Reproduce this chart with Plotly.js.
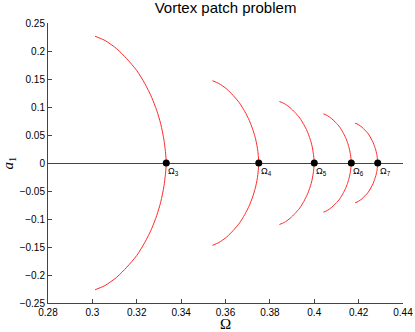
<!DOCTYPE html>
<html>
<head>
<meta charset="utf-8">
<script src="https://cdn.plot.ly/plotly-3.0.1.min.js"></script>
<style>
  html, body { margin: 0; padding: 0; background: #fff; }
  #graph { width: 415px; height: 332px; }
</style>
</head>
<body>
<div id="graph"></div>
<script>
// bifurcation branches (Omega, a1)
const omega3 = [0.3012, 0.3057, 0.3110, 0.3155, 0.3200, 0.3237, 0.3267, 0.3290, 0.3308, 0.3323, 0.3333,
                0.3323, 0.3308, 0.3290, 0.3267, 0.3237, 0.3200, 0.3155, 0.3110, 0.3057, 0.3012];
const a1_3 = [0.2264, 0.2188, 0.2039, 0.1861, 0.1652, 0.1414, 0.1175, 0.0938, 0.0700, 0.0402, 0,
              -0.0402, -0.0700, -0.0938, -0.1175, -0.1414, -0.1652, -0.1861, -0.2039, -0.2188, -0.2264];

const omega4 = [0.3541, 0.3570, 0.3605, 0.3634, 0.3663, 0.3687, 0.3707, 0.3722, 0.3734, 0.3744, 0.3750,
                0.3744, 0.3734, 0.3722, 0.3707, 0.3687, 0.3663, 0.3634, 0.3605, 0.3570, 0.3541];
const a1_4 = [0.1470, 0.1420, 0.1323, 0.1208, 0.1073, 0.0919, 0.0763, 0.0609, 0.0454, 0.0262, 0,
              -0.0262, -0.0454, -0.0609, -0.0763, -0.0919, -0.1073, -0.1208, -0.1323, -0.1420, -0.1470];

const omega5 = [0.3843, 0.3865, 0.3891, 0.3913, 0.3935, 0.3953, 0.3968, 0.3979, 0.3988, 0.3995, 0.4000,
                0.3995, 0.3988, 0.3979, 0.3968, 0.3953, 0.3935, 0.3913, 0.3891, 0.3865, 0.3843];
const a1_5 = [0.1098, 0.1061, 0.0988, 0.0903, 0.0802, 0.0686, 0.0570, 0.0455, 0.0339, 0.0195, 0,
              -0.0195, -0.0339, -0.0455, -0.0570, -0.0686, -0.0802, -0.0903, -0.0988, -0.1061, -0.1098];

const omega6 = [0.4041, 0.4059, 0.4079, 0.4097, 0.4115, 0.4129, 0.4141, 0.4150, 0.4157, 0.4163, 0.4167,
                0.4163, 0.4157, 0.4150, 0.4141, 0.4129, 0.4115, 0.4097, 0.4079, 0.4059, 0.4041];
const a1_6 = [0.0878, 0.0848, 0.0790, 0.0722, 0.0641, 0.0549, 0.0456, 0.0363, 0.0271, 0.0156, 0,
              -0.0156, -0.0271, -0.0363, -0.0456, -0.0549, -0.0641, -0.0722, -0.0790, -0.0848, -0.0878];

const omega7 = [0.4184, 0.4198, 0.4215, 0.4229, 0.4244, 0.4255, 0.4265, 0.4272, 0.4278, 0.4283, 0.4286,
                0.4283, 0.4278, 0.4272, 0.4265, 0.4255, 0.4244, 0.4229, 0.4215, 0.4198, 0.4184];
const a1_7 = [0.0711, 0.0687, 0.0640, 0.0584, 0.0519, 0.0444, 0.0369, 0.0294, 0.0220, 0.0127, 0,
              -0.0127, -0.0220, -0.0294, -0.0369, -0.0444, -0.0519, -0.0584, -0.0640, -0.0687, -0.0711];

// bifurcation points Omega_m = (m-1)/(2m)
const bifOmega = [0.3333, 0.3750, 0.4000, 0.4167, 0.4286];
const bifA1 = [0, 0, 0, 0, 0];
const bifLabels = ['Ω<sub>3</sub>', 'Ω<sub>4</sub>', 'Ω<sub>5</sub>', 'Ω<sub>6</sub>', 'Ω<sub>7</sub>'];

const xTicks = [0.28, 0.3, 0.32, 0.34, 0.36, 0.38, 0.4, 0.42, 0.44];
const yTicks = [-0.25, -0.2, -0.15, -0.1, -0.05, 0, 0.05, 0.1, 0.15, 0.2, 0.25];

const branches = [[omega3, a1_3], [omega4, a1_4], [omega5, a1_5], [omega6, a1_6], [omega7, a1_7]];

const traces = branches.map(b => ({
    x: b[0],
    y: b[1],
    mode: 'lines',
    line: { color: '#ff2a2a', width: 1, shape: 'spline', smoothing: 0.7 },
    hoverinfo: 'skip'
}));

traces.push({
    x: bifOmega,
    y: bifA1,
    mode: 'markers',
    marker: { color: '#000', size: 7 },
    hoverinfo: 'skip'
});

const annotations = bifOmega.map((w, i) => ({
    x: w,
    y: 0,
    xref: 'x',
    yref: 'y',
    text: bifLabels[i],
    showarrow: false,
    xanchor: 'left',
    yanchor: 'top',
    xshift: 0,
    yshift: -1,
    font: { family: 'Liberation Sans, Arial, sans-serif', size: 9, color: '#000' }
}));

const axisFont = { family: 'Liberation Sans, Arial, sans-serif', size: 10, color: '#000' };

const layout = {
    width: 415,
    height: 332,
    margin: { l: 48, r: 12, t: 23, b: 29 },
    paper_bgcolor: '#fff',
    plot_bgcolor: '#fff',
    showlegend: false,
    title: {
        text: 'Vortex patch problem',
        x: 0.5,
        xref: 'paper',
        y: 0.976,
        yref: 'container',
        yanchor: 'middle',
        font: { family: 'Liberation Sans, Arial, sans-serif', size: 15, color: '#000' }
    },
    xaxis: {
        range: [0.28, 0.44],
        tickvals: xTicks,
        ticktext: xTicks.map(v => String(v)),
        ticks: 'inside',
        ticklen: 4,
        tickcolor: '#444',
        showline: true,
        linecolor: '#444',
        linewidth: 1,
        mirror: false,
        showgrid: false,
        zeroline: false,
        tickfont: axisFont,
        title: {
            text: 'Ω',
            standoff: 1,
            font: { family: 'Liberation Serif, Times New Roman, serif', size: 15, color: '#000' }
        }
    },
    yaxis: {
        range: [-0.25, 0.25],
        tickvals: yTicks,
        ticktext: yTicks.map(v => (v < 0 ? '\u2212' + String(-v) : String(v))),
        ticks: 'inside',
        ticklen: 4,
        tickcolor: '#444',
        showline: true,
        linecolor: '#444',
        linewidth: 1,
        showgrid: false,
        zeroline: true,
        zerolinecolor: '#444',
        zerolinewidth: 1,
        tickfont: axisFont,
        title: {
            text: '<i>a</i><sub>1</sub>',
            standoff: 4,
            font: { family: 'Liberation Serif, Times New Roman, serif', size: 15, color: '#000' }
        }
    },
    annotations: annotations
};

Plotly.newPlot('graph', traces, layout, { displayModeBar: false, staticPlot: true });
</script>
</body>
</html>
